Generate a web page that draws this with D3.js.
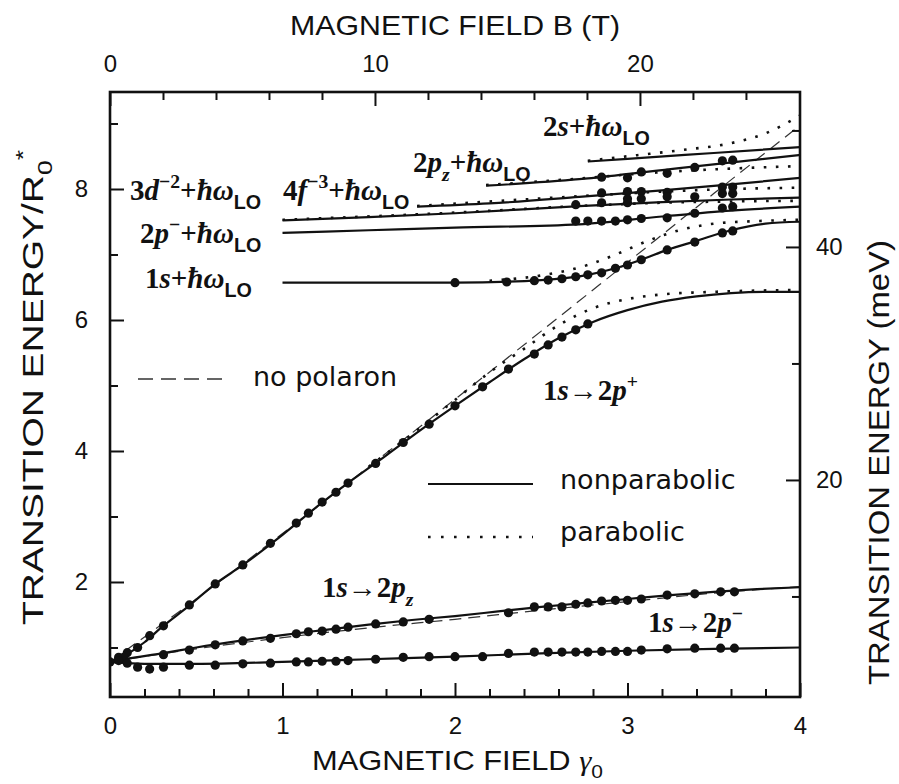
<!DOCTYPE html>
<html lang="en">
<head>
<meta charset="UTF-8">
<title>Transition energy vs magnetic field</title>
<script src="https://d3js.org/d3.v7.min.js"></script>
<style>
  body { margin: 0; background: #fff; }
  text { fill: #111; }
</style>
</head>
<body>
<div id="chart"></div>
<script>
// ---- data: [gamma0, E / R0*] ----
const p2PlusSolid = [[0,0.78],[0.1,0.9],[0.2,1.08],[0.3,1.31],[0.45,1.62],[0.6,1.95],[0.77,2.26],[1.0,2.72],[1.2,3.15],[1.4,3.55],[1.6,3.93],[1.8,4.32],[2.0,4.69],[2.2,5.05],[2.4,5.4],[2.6,5.72],[2.8,5.97],[3.0,6.15],[3.2,6.28],[3.4,6.36],[3.6,6.41],[3.8,6.43],[4.0,6.43]];
const p2PlusDotted = [[1.5,3.76],[1.8,4.36],[2.0,4.78],[2.2,5.2],[2.4,5.56],[2.6,5.92],[2.8,6.18],[3.0,6.32],[3.2,6.39],[3.5,6.43],[4.0,6.46]];
const p2PlusDashed = [[0,0.78],[0.5,1.74],[1.0,2.74],[1.5,3.76],[2.0,4.79],[2.5,5.83],[3.0,6.88],[3.5,7.93],[4.0,8.97]];
const pzSolid = [[0,0.78],[0.1,0.83],[0.3,0.91],[0.5,1.0],[0.75,1.1],[1.0,1.19],[1.25,1.27],[1.5,1.35],[1.75,1.42],[2.0,1.48],[2.25,1.55],[2.5,1.62],[2.75,1.68],[3.0,1.74],[3.25,1.8],[3.5,1.85],[3.75,1.89],[4.0,1.92]];
const pzDashed = [[0,0.78],[0.5,0.98],[1.0,1.15],[1.5,1.3],[2.0,1.43],[2.5,1.57],[3.0,1.7],[3.5,1.83],[4.0,1.93]];
const pMinusSolid = [[0,0.78],[0.1,0.76],[0.2,0.75],[0.5,0.75],[1.0,0.78],[1.5,0.82],[2.0,0.86],[2.5,0.91],[3.0,0.95],[3.5,0.98],[4.0,1.0]];

const s1LOSolid = [[1.0,6.57],[1.5,6.57],[2.0,6.57],[2.5,6.61],[2.77,6.69],[2.93,6.79],[3.08,6.92],[3.23,7.07],[3.39,7.2],[3.6,7.37],[3.8,7.47],[4.0,7.5]];
const s1LODotted = [[2.2,6.6],[2.5,6.68],[2.77,6.84],[2.95,7.02],[3.11,7.2],[3.3,7.37],[3.5,7.47],[3.75,7.51],[4.0,7.53]];
const pMinusLOSolid = [[1.0,7.33],[1.5,7.37],[2.0,7.41],[2.72,7.46],[3.2,7.58],[3.6,7.67],[4.0,7.73]];
const d3LOSolid = [[1.0,7.52],[1.5,7.57],[2.0,7.63],[2.72,7.74],[3.2,7.8],[3.6,7.84],[4.0,7.87]];
const d3LODotted = [[1.0,7.53],[2.0,7.64],[2.72,7.74],[3.2,7.79],[3.6,7.81],[4.0,7.82]];
const f4LOSolid = [[1.78,7.73],[2.2,7.78],[2.72,7.88],[3.2,7.98],[3.6,8.07],[4.0,8.17]];
const f4LODotted = [[1.78,7.74],[2.72,7.89],[3.2,7.96],[3.6,8.0],[4.0,8.02]];
const pzLOSolid = [[2.18,8.05],[2.72,8.15],[3.3,8.32],[4.0,8.52]];
const pzLODotted = [[2.18,8.06],[2.72,8.16],[3.1,8.24],[3.5,8.3],[4.0,8.35]];
const s2LOSolid = [[2.77,8.42],[3.0,8.46],[3.5,8.55],[4.0,8.64]];
const s2LODotted = [[2.77,8.43],[3.0,8.5],[3.3,8.59],[3.6,8.7],[3.8,8.85],[4.0,9.12]];

// measured points
const dots2pPlus = [[0,0.78],[0.05,0.85],[0.1,0.92],[0.16,1.0],[0.23,1.18],[0.31,1.33],[0.46,1.65],[0.61,1.97],[0.77,2.26],[0.93,2.59],[1.08,2.9],[1.15,3.05],[1.23,3.22],[1.31,3.37],[1.38,3.51],[1.54,3.81],[1.7,4.13],[1.85,4.41],[2.0,4.69],[2.16,4.98],[2.31,5.25],[2.46,5.48],[2.54,5.62],[2.62,5.74],[2.7,5.85],[2.77,5.94]];
const dots2pz = [[0.08,0.85],[0.31,0.89],[0.46,0.96],[0.61,1.04],[0.77,1.1],[0.93,1.14],[1.08,1.21],[1.15,1.24],[1.23,1.25],[1.31,1.28],[1.38,1.31],[1.54,1.36],[1.7,1.39],[1.85,1.43],[2.31,1.53],[2.46,1.62],[2.54,1.62],[2.62,1.62],[2.7,1.66],[2.77,1.68],[2.85,1.71],[2.93,1.72],[3.0,1.72],[3.08,1.74],[3.23,1.8],[3.39,1.82],[3.54,1.85],[3.62,1.85]];
const dots2pMinus = [[0.05,0.8],[0.1,0.76],[0.16,0.7],[0.23,0.67],[0.31,0.7],[0.46,0.73],[0.61,0.73],[0.77,0.75],[0.93,0.76],[1.08,0.78],[1.15,0.78],[1.23,0.79],[1.31,0.79],[1.38,0.8],[1.54,0.82],[1.7,0.85],[1.85,0.86],[2.0,0.86],[2.16,0.86],[2.31,0.91],[2.46,0.93],[2.54,0.93],[2.62,0.93],[2.7,0.93],[2.77,0.93],[2.85,0.94],[2.93,0.94],[3.0,0.94],[3.08,0.96],[3.23,0.98],[3.39,0.99],[3.54,0.99],[3.62,0.99]];
const dots1sLO = [[2.0,6.57],[2.3,6.58],[2.46,6.6],[2.54,6.61],[2.62,6.63],[2.7,6.66],[2.77,6.69],[2.85,6.72],[2.93,6.79],[3.0,6.84],[3.08,6.92],[3.23,7.07],[3.39,7.19],[3.55,7.33],[3.61,7.36]];
const dotsUpper = [[2.7,7.51],[2.77,7.51],[2.85,7.51],[2.93,7.51],[3.0,7.53],[3.08,7.55],[3.23,7.56],[3.39,7.63],[3.55,7.71],[3.61,7.73],
  [2.7,7.76],[2.85,7.79],[3.0,7.79],[2.85,7.94],[3.0,7.96],[3.0,7.85],[3.08,7.96],[3.08,7.85],[3.23,7.95],[3.23,7.88],[3.39,7.88],[3.55,8.03],[3.55,7.93],[3.61,8.03],[3.61,7.93],
  [2.85,8.18],[3.0,8.17],[3.08,8.26],[3.23,8.24],[3.39,8.33],[3.55,8.43],[3.61,8.44]];

// ticks
const gammaMajor = [0, 1, 2, 3, 4];
const gammaMinor = d3.range(0.2, 4, 0.2).filter(v => Math.abs(v - Math.round(v)) > 0.01);
const energyMajor = [2, 4, 6, 8];
const energyMinor = [1, 3, 5, 7, 9];
const teslaMajor = [0, 10, 20];
const teslaMinor = [2, 4, 6, 8, 12, 14, 16, 18, 22, 24];
const mevMajor = [20, 40];
const mevMinor = [10, 30, 50];

const width = 899, height = 784;
const serif = "'Liberation Serif', 'DejaVu Serif', serif";
const sans = "'Liberation Sans', Arial, sans-serif";
const round = "'DejaVu Sans', sans-serif";

const svg = d3.select("#chart").append("svg")
  .attr("width", width).attr("height", height);

const x = d3.scaleLinear().domain([0, 4]).range([110, 800]);
const y = d3.scaleLinear().domain([0.244, 9.481]).range([697, 92]);
const xB = d3.scaleLinear().domain([0, 26.04]).range([110, 800]);
const yM = d3.scaleLinear().domain([1.37, 53.3]).range([697, 92]);

svg.append("clipPath").attr("id", "plot")
  .append("rect").attr("x", 110).attr("y", 92).attr("width", 690).attr("height", 605);

const line = d3.line().x(d => x(d[0])).y(d => y(d[1])).curve(d3.curveMonotoneX);
const plot = svg.append("g").attr("clip-path", "url(#plot)");

function curve(data, kind) {
  const p = plot.append("path").attr("d", line(data)).attr("fill", "none").attr("stroke", "#111");
  if (kind === "solid") p.attr("stroke-width", 2.2);
  if (kind === "dotted") p.attr("stroke-width", 2.6).attr("stroke-dasharray", "2.6,9.5");
  if (kind === "dashed") p.attr("stroke-width", 1.2).attr("stroke", "#333").attr("stroke-dasharray", "12,7");
}

[p2PlusDashed, pzDashed].forEach(d => curve(d, "dashed"));
[p2PlusDotted, s1LODotted, d3LODotted, f4LODotted, pzLODotted, s2LODotted].forEach(d => curve(d, "dotted"));
[p2PlusSolid, pzSolid, pMinusSolid, s1LOSolid, pMinusLOSolid, d3LOSolid, f4LOSolid, pzLOSolid, s2LOSolid].forEach(d => curve(d, "solid"));

plot.selectAll("circle")
  .data([].concat(dots2pPlus, dots2pz, dots2pMinus, dots1sLO, dotsUpper))
  .enter().append("circle")
  .attr("cx", d => x(d[0])).attr("cy", d => y(d[1])).attr("r", 4.6).attr("fill", "#111");

// axes with inward ticks
function axis(gen, scale, vals, size, pad, tr, labels) {
  const a = gen(scale).tickValues(vals).tickSize(-size).tickPadding(pad);
  a.tickFormat(labels ? d3.format("d") : "");
  const g = svg.append("g").attr("transform", tr).call(a);
  g.select(".domain").remove();
  g.selectAll("line").attr("stroke", "#111").attr("stroke-width", 2);
  g.selectAll("text").style("font-family", sans).style("font-size", "24px").attr("fill", "#111");
  return g;
}
axis(d3.axisBottom, x, gammaMajor, 14, 20, "translate(0,697)", true);
axis(d3.axisBottom, x, gammaMinor, 8, 0, "translate(0,697)", false);
axis(d3.axisTop, xB, teslaMajor, 14, 20, "translate(0,92)", true);
axis(d3.axisTop, xB, teslaMinor, 8, 0, "translate(0,92)", false);
axis(d3.axisLeft, y, energyMajor, 14, 22, "translate(110,0)", true);
axis(d3.axisLeft, y, energyMinor, 8, 0, "translate(110,0)", false);
axis(d3.axisRight, yM, mevMajor, 14, 16, "translate(800,0)", true);
axis(d3.axisRight, yM, mevMinor, 8, 0, "translate(800,0)", false);

svg.append("rect").attr("x", 110).attr("y", 92).attr("width", 690).attr("height", 605)
  .attr("fill", "none").attr("stroke", "#111").attr("stroke-width", 2.6);

// rich text helper
function rich(g, x0, y0, parts, size, family) {
  const t = g.append("text").attr("x", x0).attr("y", y0)
    .style("font-family", family || serif).style("font-size", size + "px");
  let cur = 0;
  parts.forEach(p => {
    const shift = p.pos === "sup" ? -0.42 * size : p.pos === "sub" ? 0.3 * size : 0;
    const s = t.append("tspan").attr("dy", shift - cur).text(p.t);
    cur = shift;
    if (p.pos) s.style("font-size", (0.68 * size) + "px");
    if (p.it) s.style("font-style", "italic");
    if (p.sans) s.style("font-family", sans);
  });
  return t;
}
const hw = [{ t: "+" }, { t: "ħω", it: 1 }, { t: "LO", pos: "sub", sans: 1 }];
const lab = svg.append("g").style("font-weight", "bold");
const ls = 29;
rich(lab, 543, 136, [{ t: "2" }, { t: "s", it: 1 }].concat(hw), ls);
rich(lab, 413, 172, [{ t: "2" }, { t: "p", it: 1 }, { t: "z", it: 1, pos: "sub" }].concat(hw), ls);
rich(lab, 130, 200, [{ t: "3" }, { t: "d", it: 1 }, { t: "−2", pos: "sup" }].concat(hw), ls);
rich(lab, 283, 200, [{ t: "4" }, { t: "f", it: 1 }, { t: "−3", pos: "sup" }].concat(hw), ls);
rich(lab, 140, 243, [{ t: "2" }, { t: "p", it: 1 }, { t: "−", pos: "sup" }].concat(hw), ls);
rich(lab, 145, 288, [{ t: "1" }, { t: "s", it: 1 }].concat(hw), ls);
rich(lab, 543, 400, [{ t: "1" }, { t: "s", it: 1 }, { t: "→" }, { t: "2" }, { t: "p", it: 1 }, { t: "+", pos: "sup" }], ls);
rich(lab, 322, 597, [{ t: "1" }, { t: "s", it: 1 }, { t: "→" }, { t: "2" }, { t: "p", it: 1 }, { t: "z", it: 1, pos: "sub" }], ls);
rich(lab, 648, 632, [{ t: "1" }, { t: "s", it: 1 }, { t: "→" }, { t: "2" }, { t: "p", it: 1 }, { t: "−", pos: "sup" }], ls);

// legend
const leg = svg.append("g");
leg.append("line").attr("x1", 138).attr("x2", 230).attr("y1", 379).attr("y2", 379)
  .attr("stroke", "#333").attr("stroke-width", 1.3).attr("stroke-dasharray", "15,8");
leg.append("line").attr("x1", 428).attr("x2", 533).attr("y1", 484).attr("y2", 484)
  .attr("stroke", "#111").attr("stroke-width", 2.2);
leg.append("line").attr("x1", 428).attr("x2", 533).attr("y1", 537).attr("y2", 537)
  .attr("stroke", "#111").attr("stroke-width", 2.6).attr("stroke-dasharray", "2.6,10.4");
[["no polaron", 253, 386], ["nonparabolic", 560, 489], ["parabolic", 560, 541]].forEach(d => {
  leg.append("text").attr("x", d[1]).attr("y", d[2]).text(d[0])
    .style("font-family", round).style("font-size", "27px");
});

// axis titles
svg.append("text").attr("x", 455).attr("y", 35).attr("text-anchor", "middle")
  .attr("textLength", 330).attr("lengthAdjust", "spacingAndGlyphs")
  .style("font-family", sans).style("font-size", "28px").text("MAGNETIC FIELD B (T)");

const bt = rich(svg, 312, 770, [{ t: "MAGNETIC FIELD " }, { t: "γ", it: 1 }, { t: "0", pos: "sub" }], 28, sans)
  .attr("textLength", 291).attr("lengthAdjust", "spacingAndGlyphs");
bt.select("tspan:nth-child(2)").style("font-family", serif);

const lt = svg.append("g").attr("transform", "translate(43,625) rotate(-90)");
rich(lt, 0, 0, [{ t: "TRANSITION ENERGY/R" }, { t: "0", pos: "sub" }, { t: "*", pos: "sup" }], 30, sans)
  .attr("textLength", 475).attr("lengthAdjust", "spacingAndGlyphs");

svg.append("text").attr("transform", "translate(889,685) rotate(-90)")
  .attr("textLength", 445).attr("lengthAdjust", "spacingAndGlyphs")
  .style("font-family", sans).style("font-size", "30px").text("TRANSITION ENERGY (meV)");
</script>
</body>
</html>
